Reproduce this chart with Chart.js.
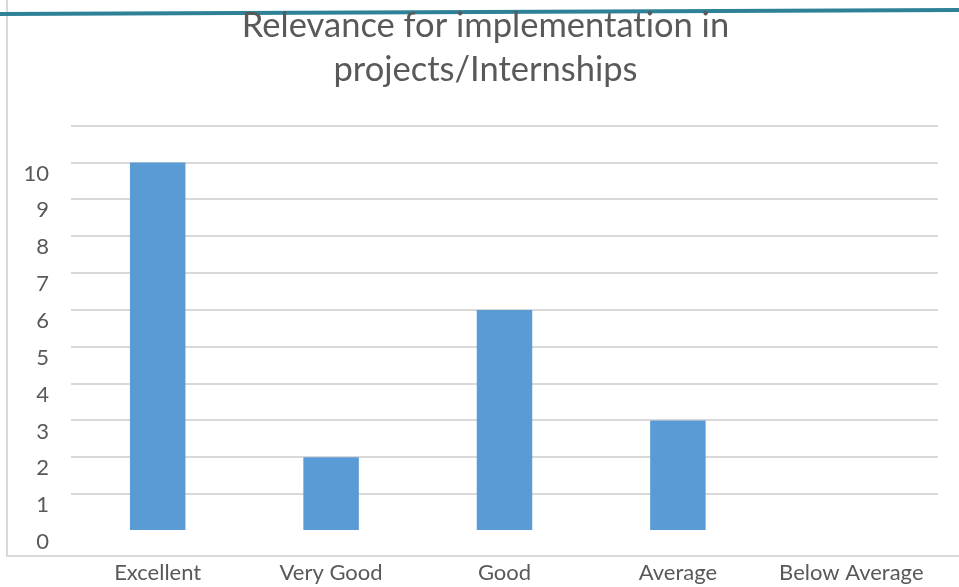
<!DOCTYPE html>
<html>
<head>
<meta charset="utf-8">
<script src="https://cdn.jsdelivr.net/npm/chart.js@4/dist/chart.umd.min.js"></script>
<style>
  html, body { margin: 0; padding: 0; background: #fff; }
  #wrap { width: 959px; height: 587px; }
</style>
</head>
<body>
<div id="wrap"><canvas id="myChart"></canvas></div>
<script>
var categories = ["Excellent", "Very Good", "Good", "Average", "Below Average"];
var responses = [10, 2, 6, 3, 0];
var yTicks = [0, 1, 2, 3, 4, 5, 6, 7, 8, 9, 10, 11];

var textColor = "#595959";
var fontFamily = "Lato, 'Open Sans', sans-serif";

// slide frame lines around the chart
var framePlugin = {
  id: "frame",
  beforeDraw: function (chart) {
    var c = chart.ctx;
    c.textRendering = "optimizeSpeed"; // no "ti" ligature
    c.save();
    c.strokeStyle = "#d9d9d9";
    c.lineWidth = 2;
    c.beginPath();
    c.moveTo(7, 0);
    c.lineTo(7, 556);
    c.lineTo(959, 556);
    c.stroke();
    c.strokeStyle = "#2f8197";
    c.lineWidth = 4;
    c.beginPath();
    c.moveTo(0, 14);
    c.lineTo(959, 10);
    c.stroke();
    c.restore();
  }
};

var ctx = document.getElementById("myChart").getContext("2d");
var myChart = new Chart(ctx, {
  type: "bar",
  data: {
    labels: categories,
    datasets: [{
      label: "Responses",
      data: responses,
      backgroundColor: "#5b9bd5",
      barPercentage: 0.32,
      categoryPercentage: 1
    }]
  },
  options: {
    responsive: true,
    maintainAspectRatio: false,
    animation: false,
    layout: { padding: { left: 12, right: 0, top: 0, bottom: 0 } },
    plugins: {
      legend: { display: false },
      tooltip: { enabled: false },
      title: {
        display: true,
        text: ["Relevance for implementation in", "projects/Internships"],
        color: textColor,
        font: { family: fontFamily, size: 34.5, weight: "normal", lineHeight: 1.3 },
        padding: { top: 3, bottom: 33 }
      }
    },
    scales: {
      x: {
        grid: { display: false, drawTicks: false },
        border: { display: false },
        ticks: {
          color: textColor,
          font: { family: fontFamily, size: 22 },
          padding: 29,
          maxRotation: 0
        },
        afterFit: function (scale) { scale.height = 56; }
      },
      y: {
        min: 0,
        max: 11,
        afterBuildTicks: function (scale) {
          scale.ticks = yTicks.map(function (v) { return { value: v }; });
        },
        grid: {
          drawTicks: false,
          lineWidth: 2,
          color: function (c) {
            return c.tick && c.tick.value === 0 ? "rgba(0,0,0,0)" : "#d9d9d9";
          }
        },
        border: { display: false },
        ticks: {
          color: textColor,
          font: { family: fontFamily, size: 22 },
          padding: 22,
          labelOffset: 11,
          callback: function (v) { return v === 11 ? "" : v; }
        },
        afterFit: function (scale) { scale.width = 59; }
      },
      // empty right-hand gap so the title centres like the original
      yRight: {
        position: "right",
        grid: { display: false, drawTicks: false },
        border: { display: false },
        ticks: { display: false },
        afterFit: function (scale) { scale.width = 21; }
      }
    }
  },
  plugins: [framePlugin]
});
</script>
</body>
</html>
